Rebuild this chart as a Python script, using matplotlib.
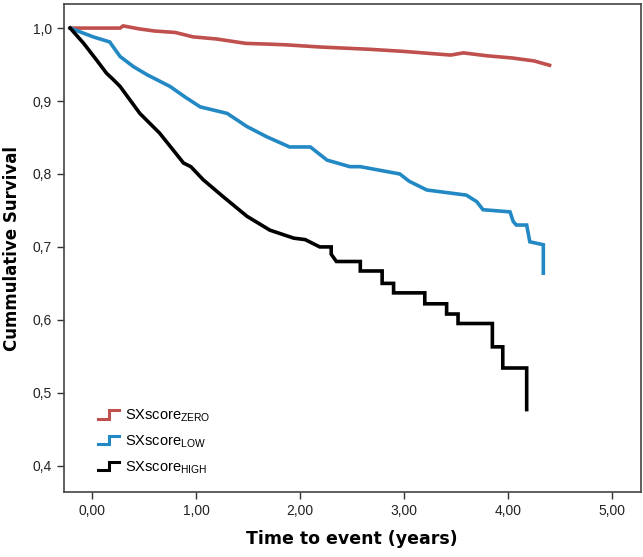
import matplotlib as mpl
mpl.use('Agg')
import matplotlib.pyplot as plt
from matplotlib.legend_handler import HandlerBase
from matplotlib.lines import Line2D

# Kaplan-Meier curves (time in years, cumulative survival)
zero_t = [-0.21, 0.1, 0.27, 0.3, 0.45, 0.6, 0.8, 0.97, 1.2, 1.48, 1.7, 1.87,
          2.2, 2.66, 3.0, 3.45, 3.57, 3.8, 4.04, 4.25, 4.4]
zero_s = [1.0, 1.0, 1.0, 1.003, 0.999, 0.996, 0.994, 0.988, 0.985, 0.979, 0.978, 0.977,
          0.974, 0.971, 0.968, 0.963, 0.966, 0.962, 0.959, 0.955, 0.949]

low_t = [-0.21, 0.01, 0.17, 0.27, 0.4, 0.53, 0.75, 0.9, 1.04, 1.3, 1.49, 1.68,
         1.9, 2.1, 2.26, 2.48, 2.58, 2.96, 3.05, 3.22, 3.6, 3.7, 3.76, 4.02,
         4.05, 4.08, 4.18, 4.21, 4.34, 4.34]
low_s = [1.0, 0.988, 0.981, 0.961, 0.947, 0.936, 0.92, 0.905, 0.892, 0.883, 0.865, 0.851,
         0.837, 0.837, 0.819, 0.81, 0.81, 0.80, 0.79, 0.778, 0.771, 0.762, 0.751, 0.748,
         0.735, 0.73, 0.73, 0.707, 0.703, 0.664]

high_t = [-0.21, -0.08, 0.05, 0.14, 0.2, 0.27, 0.46, 0.65, 0.88, 0.95, 1.07, 1.26,
          1.49, 1.71, 1.94, 2.05, 2.19, 2.3, 2.3, 2.35, 2.58, 2.58, 2.79, 2.79,
          2.9, 2.9, 3.2, 3.2, 3.41, 3.41, 3.52, 3.52, 3.85, 3.85, 3.95, 3.95,
          4.18, 4.18]
high_s = [1.0, 0.979, 0.955, 0.938, 0.93, 0.92, 0.883, 0.856, 0.815, 0.81, 0.792, 0.769,
          0.742, 0.723, 0.712, 0.71, 0.70, 0.70, 0.69, 0.68, 0.68, 0.667, 0.667, 0.65,
          0.65, 0.637, 0.637, 0.622, 0.622, 0.608, 0.608, 0.595, 0.595, 0.563, 0.563, 0.534,
          0.534, 0.477]

groups = ['ZERO', 'LOW', 'HIGH']
colors = ['#c0504d', '#2389c4', '#000000']
xticks = [0, 1, 2, 3, 4, 5]
yticks = [0.4, 0.5, 0.6, 0.7, 0.8, 0.9, 1.0]


class StepHandler(HandlerBase):
    # little step glyph like SPSS legend
    def create_artists(self, legend, orig_handle, xdescent, ydescent,
                       width, height, fontsize, trans):
        w, h = width, height
        xs = [0.05 * w, 0.5 * w, 0.5 * w, 0.95 * w]
        ys = [0.1 * h, 0.1 * h, 0.9 * h, 0.9 * h]
        ln = Line2D(xs, ys, color=orig_handle.get_color(), lw=2.2,
                    solid_joinstyle='miter', transform=trans)
        return [ln]


fig = plt.figure(figsize=(6.43, 5.57), dpi=100)
ax = fig.add_axes([0.0988, 0.1167, 0.8982, 0.8761])

lines = []
for t, s, g, c in zip([zero_t, low_t, high_t], [zero_s, low_s, high_s], groups, colors):
    ln, = ax.plot(t, s, color=c, lw=2.6, solid_joinstyle='miter',
                  label='SXscore$_{\\mathregular{' + g + '}}$')
    lines.append(ln)

ax.set_xlim(-0.274, 5.28)
ax.set_ylim(0.364, 1.033)
ax.set_xticks(xticks)
ax.set_xticklabels([('%.2f' % x).replace('.', ',') for x in xticks],
                   fontfamily='Liberation Sans')
ax.set_yticks(yticks)
ax.set_yticklabels([('%.1f' % y).replace('.', ',') for y in yticks],
                   fontfamily='Liberation Sans')
ax.tick_params(direction='out', length=5, width=1, labelsize=10,
               colors='#333333', labelcolor='#222222')

for sp in ax.spines.values():
    sp.set_color('#444444')
    sp.set_linewidth(1.2)

ax.set_xlabel('Time to event (years)', fontsize=12.5, fontweight='bold', labelpad=9)
ax.set_ylabel('Cummulative Survival', fontsize=12, fontweight='bold', labelpad=8)

leg = ax.legend(handles=lines, loc='upper left', bbox_to_anchor=(0.035, 0.2),
                frameon=False, handler_map={Line2D: StepHandler()},
                prop={'family': 'Liberation Sans', 'size': 10.5},
                handlelength=1.6, handletextpad=0.3, labelspacing=0.62)

fig.savefig('out.png', dpi=100)
